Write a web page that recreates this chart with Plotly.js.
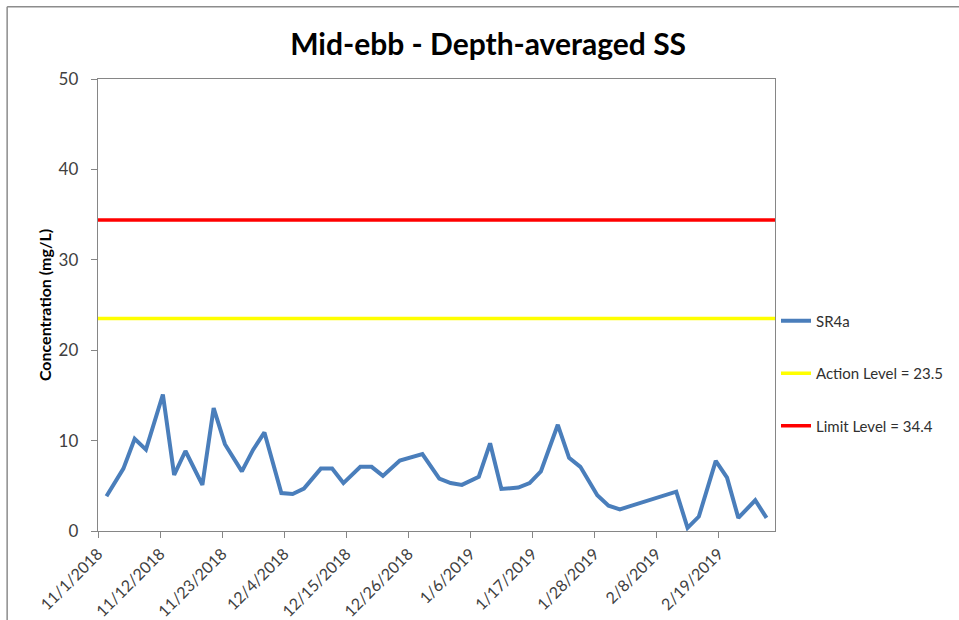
<!DOCTYPE html>
<html>
<head>
<meta charset="utf-8">
<script src="https://cdn.plot.ly/plotly-3.0.1.min.js"></script>
<style>
html,body{margin:0;padding:0;background:#fff;}
#chart{width:959px;height:620px;}
</style>
</head>
<body>
<div id="chart"></div>
<script>
// Sampling dates (mid-ebb, SR4a) and depth-averaged SS (mg/L)
const sampleDates = [
  '2018-11-02','2018-11-05','2018-11-07','2018-11-09','2018-11-12','2018-11-14','2018-11-16',
  '2018-11-19','2018-11-21','2018-11-23','2018-11-26','2018-11-28','2018-11-30',
  '2018-12-03','2018-12-05','2018-12-07','2018-12-10','2018-12-12','2018-12-14',
  '2018-12-17','2018-12-19','2018-12-21','2018-12-24','2018-12-26','2018-12-28',
  '2018-12-31','2019-01-02','2019-01-04','2019-01-07','2019-01-09','2019-01-11',
  '2019-01-14','2019-01-16','2019-01-18','2019-01-21','2019-01-23','2019-01-25',
  '2019-01-28','2019-01-30','2019-02-01','2019-02-11','2019-02-13','2019-02-15',
  '2019-02-18','2019-02-20','2019-02-22','2019-02-25','2019-02-27'
];
const sr4a = [
  3.85, 6.9, 10.2, 9.0, 15.1, 6.2, 8.85,
  5.1, 13.6, 9.6, 6.6, 9.0, 10.9,
  4.2, 4.1, 4.7, 6.9, 6.9, 5.3,
  7.1, 7.1, 6.1, 7.8, 8.1, 8.5,
  5.8, 5.3, 5.1, 6.0, 9.7, 4.65,
  4.8, 5.3, 6.6, 11.75, 8.1, 7.1,
  3.95, 2.8, 2.4, 4.35, 0.35, 1.6,
  7.75, 5.9, 1.45, 3.4, 1.45
];
const actionLevel = 23.5;
const limitLevel = 34.4;
const seriesNames = ['SR4a', 'Action Level = 23.5', 'Limit Level = 34.4'];

const axisStart = '2018-11-01';
const axisEnd = '2019-03-01';
const tickDates = ['2018-11-01','2018-11-12','2018-11-23','2018-12-04','2018-12-15','2018-12-26',
                   '2019-01-06','2019-01-17','2019-01-28','2019-02-08','2019-02-19'];
const tickLabels = ['11/1/2018','11/12/2018','11/23/2018','12/4/2018','12/15/2018','12/26/2018',
                    '1/6/2019','1/17/2019','1/28/2019','2/8/2019','2/19/2019'];
const yTicks = [0, 10, 20, 30, 40, 50];

// Excel date axis plots each day in the middle of its slot (between tick marks)
const xPlot = sampleDates.map(d => d + ' 12:00');

const FONT = 'Lato, "Open Sans", "DejaVu Sans", sans-serif';
const AXIS = '#868686';

const traces = [
  {x: xPlot, y: sr4a, type: 'scatter', mode: 'lines', name: seriesNames[0],
   line: {color: '#4A7EBB', width: 4}, legendgroup: 'a'},
  {x: [axisStart, axisEnd], y: [actionLevel, actionLevel], type: 'scatter', mode: 'lines',
   name: seriesNames[1], line: {color: '#FFFF00', width: 3.5}, legendgroup: 'b'},
  {x: [axisStart, axisEnd], y: [limitLevel, limitLevel], type: 'scatter', mode: 'lines',
   name: seriesNames[2], line: {color: '#FF0000', width: 3.5}, legendgroup: 'c'}
];

const layout = {
  width: 959, height: 620,
  margin: {l: 98, r: 183, t: 79, b: 89},
  paper_bgcolor: '#fff', plot_bgcolor: '#fff',
  font: {family: FONT, color: '#404040', size: 16},
  title: {text: '<b>Mid-ebb - Depth-averaged SS</b>', font: {family: FONT, size: 30, color: '#000'},
          xref: 'container', x: 0.509, y: 0.929, yanchor: 'middle', xanchor: 'center'},
  showlegend: true,
  legend: {x: 1.0, xanchor: 'left', y: 0.501, yanchor: 'top', traceorder: 'grouped',
           tracegroupgap: 30, font: {family: FONT, size: 15, color: '#303030'},
           bgcolor: 'rgba(0,0,0,0)', itemwidth: 30},
  xaxis: {type: 'date', range: [axisStart, axisEnd], tickmode: 'array', tickvals: tickDates,
          ticktext: tickLabels, tickangle: -45, ticks: 'outside', ticklen: 6, tickcolor: AXIS,
          showline: true, linecolor: AXIS, linewidth: 1.3, mirror: true, showgrid: false, zeroline: false,
          automargin: false, tickfont: {family: FONT, size: 16, color: '#404040'}},
  yaxis: {range: [0, 50], tickmode: 'array', tickvals: yTicks, ticks: 'outside', ticklen: 6,
          tickcolor: AXIS, showline: true, linecolor: AXIS, linewidth: 1.3, mirror: true,
          showgrid: false, zeroline: false, ticklabelstandoff: 9, automargin: false,
          tickfont: {family: FONT, size: 17, color: '#404040'},
          title: {text: '<b>Concentration (mg/L)</b>', font: {family: FONT, size: 16, color: '#000'}, standoff: 3}},
  shapes: [
    {type: 'line', xref: 'paper', yref: 'paper', x0: -0.1342, x1: 2, y0: 1.16, y1: 1.16,
     line: {color: '#8C8C8C', width: 1.5}},
    {type: 'line', xref: 'paper', yref: 'paper', x0: -0.1342, x1: -0.1342, y0: 1.16, y1: -1,
     line: {color: '#8C8C8C', width: 1.5}}
  ]
};

Plotly.newPlot('chart', traces, layout, {displayModeBar: false, staticPlot: true});
</script>
</body>
</html>
